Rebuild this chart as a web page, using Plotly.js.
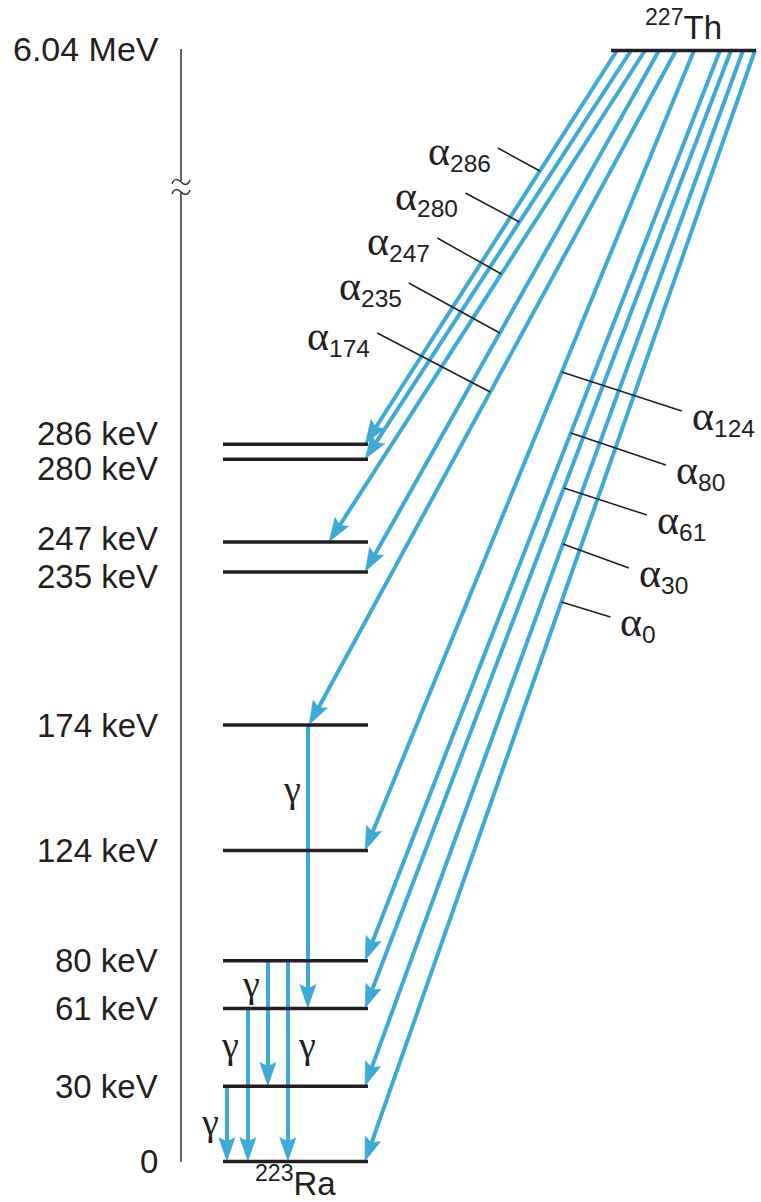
<!DOCTYPE html>
<html><head><meta charset="utf-8">
<script src="https://cdn.plot.ly/plotly-3.0.1.min.js"></script>
<style>html,body{margin:0;padding:0;background:#fff}</style>
</head><body><div id="chart" style="width:761px;height:1202px"></div>
<script>
// ---------------- data ----------------
const levelEnergies = [286, 280, 247, 235, 174, 124, 80, 61, 30, 0];           // keV, 223Ra levels
const levelLabels   = ['286 keV','280 keV','247 keV','235 keV','174 keV','124 keV','80 keV','61 keV','30 keV','0'];
const parentLabel   = '6.04 MeV';
const parentName    = '<sup>227</sup>Th';
const daughterName  = '<sup>223</sup>Ra';
const alphaFinal    = [286, 280, 247, 235, 174, 124, 80, 61, 30, 0];           // alpha branches -> final level (keV)
const gammaFrom     = [174, 80, 80, 61, 30];                                    // gamma transitions (keV)
const gammaTo       = [61, 30, 0, 0, 0];

// ---------------- layout constants (drawing geometry) ----------------
const W = 761, H = 1202;
const Y0PX = 1161.5, PXPERKEV = 2.508;
const e2px = e => Y0PX - PXPERKEV * e;
const px2e = p => (Y0PX - p) / PXPERKEV;
const PARENT_PX = 50.5;
const parentDisplayE = px2e(PARENT_PX);     // broken-axis display position of the 6.04 MeV level

const LEVEL_X0 = 223, LEVEL_X1 = 368;
const PARENT_X0 = 611, PARENT_X1 = 756;
const AXIS_X = 181;
const BLUE = 'rgb(64,170,214)', INK = '#231f20';
const SERIF = "'Liberation Serif', 'Times New Roman', serif";
const HEAD_L = 24, HEAD_W = 8.3, HEAD_NOTCH = 4;

const alphaStartX = [617, 631, 645, 659, 676, 694, 720, 731, 743, 755];
const alphaEndX   = [365, 365, 329, 365, 309, 365, 365, 365, 365, 365];
const leaderTouchPx = [171, 222, 274, 333, 392, 372, 433, 488, 544, 602];
const leaderOffset  = [[-42,-23],[-54,-29],[-64,-36],[-91,-50],[-113,-59],[120,39],[95,32],[83,27],[66,24],[49,15]];
const levelLabelShift = {286: -11, 280: 9, 247: -4, 235: 4};
const gammaX        = [308, 268, 288, 248, 227];
const gammaLabelDx  = [-16, -17, 19, -18, -17];
const gammaLabelPx  = [789, 984, 1045, 1045, 1122];

// ---------------- geometry helpers ----------------
const blueX = [], blueY = [], headX = [], headY = [];
function arrow(x0, E0, x1, E1) {
  // work in pixel space for direction, convert back to axis units
  const p0 = e2px(E0), p1 = e2px(E1);
  let ux = x1 - x0, uy = p1 - p0;
  const len = Math.hypot(ux, uy); ux /= len; uy /= len;
  const nx = -uy, ny = ux;
  const lineEndX = x1 - ux * (HEAD_L - HEAD_NOTCH - 1), lineEndP = p1 - uy * (HEAD_L - HEAD_NOTCH - 1);
  blueX.push(x0, lineEndX, null); blueY.push(E0, px2e(lineEndP), null);
  const pts = [
    [x1, p1],
    [x1 - ux * HEAD_L + nx * HEAD_W, p1 - uy * HEAD_L + ny * HEAD_W],
    [x1 - ux * (HEAD_L - HEAD_NOTCH), p1 - uy * (HEAD_L - HEAD_NOTCH)],
    [x1 - ux * HEAD_L - nx * HEAD_W, p1 - uy * HEAD_L - ny * HEAD_W]
  ];
  pts.forEach(([x, p]) => { headX.push(x); headY.push(px2e(p)); });
  headX.push(null); headY.push(null);
}

alphaFinal.forEach((E, i) => arrow(alphaStartX[i], parentDisplayE, alphaEndX[i], E));
gammaFrom.forEach((Ef, i) => arrow(gammaX[i], Ef, gammaX[i], gammaTo[i]));

// level lines
const levX = [], levY = [];
levelEnergies.forEach(E => { levX.push(LEVEL_X0, LEVEL_X1, null); levY.push(E, E, null); });
levX.push(PARENT_X0, PARENT_X1, null); levY.push(parentDisplayE, parentDisplayE, null);

// leader lines + alpha labels
const ann = [];
const ldX = [], ldY = [];
alphaFinal.forEach((E, i) => {
  const y1 = e2px(E);
  const t = (leaderTouchPx[i] - PARENT_PX) / (y1 - PARENT_PX);
  const tx = alphaStartX[i] + t * (alphaEndX[i] - alphaStartX[i]);
  const ty = leaderTouchPx[i];
  const [dx, dy] = leaderOffset[i];
  const lx = tx + dx, ly = ty + dy;
  ldX.push(tx, lx, null); ldY.push(px2e(ty), px2e(ly), null);
  const left = dx < 0;
  ann.push({x: left ? lx - 5 : lx + 8, y: px2e(ly + (left ? 4 : 6)), xref: 'x', yref: 'y',
    text: `<span style="font-family:${SERIF};font-size:42px">α</span><sub>${E}</sub>`,
    showarrow: false, xanchor: left ? 'right' : 'left', yanchor: 'middle',
    font: {size: 35, color: INK}});
});

// gamma labels
gammaFrom.forEach((Ef, i) => {
  ann.push({x: gammaX[i] + gammaLabelDx[i], y: px2e(gammaLabelPx[i]), xref: 'x', yref: 'y',
    text: 'γ', showarrow: false, xanchor: 'center', yanchor: 'middle',
    font: {family: SERIF, size: 38, color: INK}});
});
// energy labels
levelEnergies.forEach((E, i) => {
  const sh = levelLabelShift[E] || 0;
  ann.push({x: 160, y: px2e(e2px(E) + sh), xref: 'x', yref: 'y', text: levelLabels[i],
    showarrow: false, xanchor: 'right', yanchor: 'middle', font: {size: 33, color: INK}});
});
ann.push({x: 161, y: px2e(49), xref: 'x', yref: 'y', text: parentLabel, showarrow: false,
  xanchor: 'right', yanchor: 'middle', font: {size: 34, color: INK}});
ann.push({x: 683, y: px2e(25), xref: 'x', yref: 'y', text: parentName, showarrow: false,
  xanchor: 'center', yanchor: 'middle', font: {size: 33, color: INK}});
ann.push({x: 295, y: px2e(1181), xref: 'x', yref: 'y', text: daughterName, showarrow: false,
  xanchor: 'center', yanchor: 'middle', font: {size: 33, color: INK}});

// energy axis with break
const shapes = [];
const axPath = (p0, p1) => ({type: 'line', xref: 'x', yref: 'y', x0: AXIS_X, x1: AXIS_X,
  y0: px2e(p0), y1: px2e(p1), line: {color: '#333', width: 1.5}, layer: 'below'});
shapes.push(axPath(49, 181));
shapes.push(axPath(192, 1162));
[182, 192].forEach(c => {
  const pts = [[AXIS_X-9, c+2], [AXIS_X-7, c-4], [AXIS_X-3, c-3], [AXIS_X, c], [AXIS_X+7, c+4], [AXIS_X+9, c-2]];
  const P = pts.map(([x, y]) => `${x},${px2e(y).toFixed(3)}`);
  shapes.push({type: 'path', xref: 'x', yref: 'y', layer: 'below',
    path: `M${P[0]} C${P[1]} ${P[2]} ${P[3]} S${P[4]} ${P[5]}`,
    line: {color: '#333', width: 1.5}});
});

const traces = [
  {type: 'scatter', mode: 'lines', x: blueX, y: blueY, line: {color: BLUE, width: 4}, connectgaps: false, hoverinfo: 'skip'},
  {type: 'scatter', mode: 'lines', x: headX, y: headY, fill: 'toself', fillcolor: BLUE,
   line: {color: BLUE, width: 0.5}, connectgaps: false, hoverinfo: 'skip'},
  {type: 'scatter', mode: 'lines', x: levX, y: levY, line: {color: INK, width: 3.5}, connectgaps: false, hoverinfo: 'skip'},
  {type: 'scatter', mode: 'lines', x: ldX, y: ldY, line: {color: INK, width: 1.5}, connectgaps: false, hoverinfo: 'skip'}
];

const layout = {
  width: W, height: H, margin: {l: 0, r: 0, t: 0, b: 0}, autosize: false,
  paper_bgcolor: '#fff', plot_bgcolor: '#fff', showlegend: false, hovermode: false,
  font: {family: "'Liberation Sans', Arial, sans-serif", color: INK},
  xaxis: {range: [0, W], visible: false, fixedrange: true},
  yaxis: {range: [px2e(H), px2e(0)], visible: false, fixedrange: true},
  annotations: ann, shapes: shapes
};
Plotly.newPlot('chart', traces, layout, {staticPlot: true, displayModeBar: false});
</script>
</body></html>
